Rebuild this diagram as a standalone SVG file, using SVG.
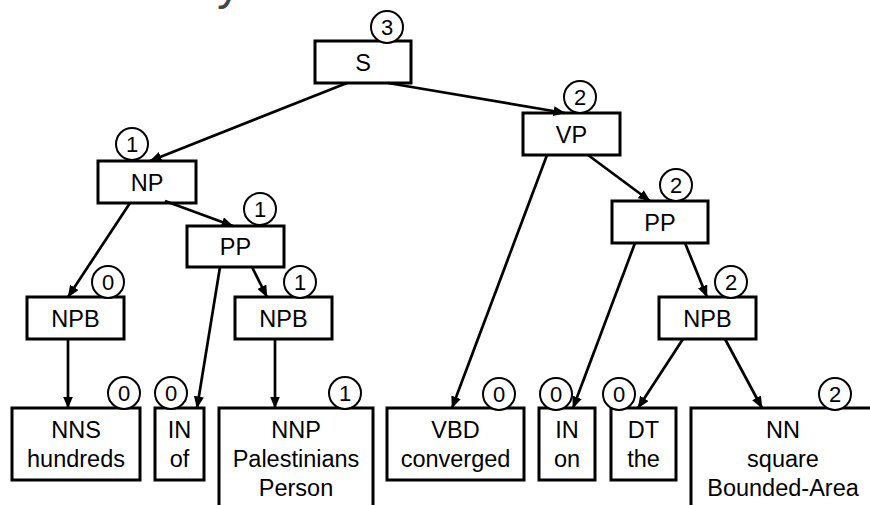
<svg xmlns="http://www.w3.org/2000/svg" width="870" height="505" viewBox="0 0 870 505">
  <style>
    .box { fill: #fff; stroke: #000; stroke-width: 3; }
    .cnt { fill: #fff; stroke: #000; stroke-width: 2; }
    .lbl { font-family: "Liberation Sans", Arial, sans-serif; font-size: 23.5px; fill: #000; text-anchor: middle; }
    .num { font-family: "Liberation Sans", Arial, sans-serif; font-size: 22px; fill: #000; text-anchor: middle; }
    .edge { stroke: #000; stroke-width: 2.7; fill: none; marker-end: url(#arrow); }
    .title { font-family: "Liberation Sans", Arial, sans-serif; font-size: 48px; fill: #444; }
  </style>
  <defs>
    <marker id="arrow" markerUnits="userSpaceOnUse" markerWidth="12" markerHeight="10" refX="11.5" refY="5" orient="auto">
      <path d="M0,0 L12,5 L0,10 Z" fill="#000"/>
    </marker>
  </defs>

  <rect width="870" height="505" fill="#fff"/>
  <text class="title" x="217" y="-1">y</text>

  <!-- tree nodes -->
  <g id="node-S">
    <rect class="box" x="315" y="41" width="96" height="42"/>
    <text class="lbl" x="363" y="71">S</text>
    <circle class="cnt" cx="387" cy="27" r="16"/>
    <text class="num" x="387" y="35">3</text>
  </g>
  <g id="node-NP">
    <rect class="box" x="98" y="161" width="98" height="42"/>
    <text class="lbl" x="147" y="191">NP</text>
    <circle class="cnt" cx="132" cy="144" r="16"/>
    <text class="num" x="132" y="152">1</text>
  </g>
  <g id="node-PP1">
    <rect class="box" x="187" y="226" width="97" height="41"/>
    <text class="lbl" x="235.5" y="255">PP</text>
    <circle class="cnt" cx="260" cy="209" r="16"/>
    <text class="num" x="260" y="217">1</text>
  </g>
  <g id="node-NPB1">
    <rect class="box" x="27" y="297" width="97" height="42"/>
    <text class="lbl" x="75.5" y="327">NPB</text>
    <circle class="cnt" cx="108" cy="282" r="16"/>
    <text class="num" x="108" y="290">0</text>
  </g>
  <g id="node-NPB2">
    <rect class="box" x="235" y="297" width="97" height="42"/>
    <text class="lbl" x="283.5" y="327">NPB</text>
    <circle class="cnt" cx="300" cy="282" r="16"/>
    <text class="num" x="300" y="290">1</text>
  </g>
  <g id="node-VP">
    <rect class="box" x="523" y="113" width="97" height="42"/>
    <text class="lbl" x="571.5" y="143">VP</text>
    <circle class="cnt" cx="580" cy="97" r="16"/>
    <text class="num" x="580" y="105">2</text>
  </g>
  <g id="node-PP2">
    <rect class="box" x="612" y="201" width="96" height="42"/>
    <text class="lbl" x="660" y="231">PP</text>
    <circle class="cnt" cx="676" cy="185" r="16"/>
    <text class="num" x="676" y="193">2</text>
  </g>
  <g id="node-NPB3">
    <rect class="box" x="659" y="297" width="97" height="42"/>
    <text class="lbl" x="707.5" y="327">NPB</text>
    <circle class="cnt" cx="731" cy="282" r="16"/>
    <text class="num" x="731" y="290">2</text>
  </g>

  <!-- leaves -->
  <g id="leaf-NNS">
    <rect class="box" x="12" y="408" width="128" height="72"/>
    <text class="lbl" x="76" y="438">NNS</text>
    <text class="lbl" x="76" y="467">hundreds</text>
    <circle class="cnt" cx="124" cy="393" r="16"/>
    <text class="num" x="124" y="401">0</text>
  </g>
  <g id="leaf-IN-of">
    <rect class="box" x="155" y="408" width="49" height="72"/>
    <text class="lbl" x="179.5" y="438">IN</text>
    <text class="lbl" x="179.5" y="467">of</text>
    <circle class="cnt" cx="171" cy="393" r="16"/>
    <text class="num" x="171" y="401">0</text>
  </g>
  <g id="leaf-NNP">
    <rect class="box" x="219" y="408" width="154" height="110"/>
    <text class="lbl" x="296" y="438">NNP</text>
    <text class="lbl" x="296" y="467">Palestinians</text>
    <text class="lbl" x="296" y="496">Person</text>
    <circle class="cnt" cx="345" cy="393" r="16"/>
    <text class="num" x="345" y="401">1</text>
  </g>
  <g id="leaf-VBD">
    <rect class="box" x="387" y="408" width="137" height="72"/>
    <text class="lbl" x="455.5" y="438">VBD</text>
    <text class="lbl" x="455.5" y="467">converged</text>
    <circle class="cnt" cx="499" cy="394" r="16"/>
    <text class="num" x="499" y="402">0</text>
  </g>
  <g id="leaf-IN-on">
    <rect class="box" x="539" y="408" width="56" height="72"/>
    <text class="lbl" x="567" y="438">IN</text>
    <text class="lbl" x="567" y="467">on</text>
    <circle class="cnt" cx="556" cy="394" r="16"/>
    <text class="num" x="556" y="402">0</text>
  </g>
  <g id="leaf-DT">
    <rect class="box" x="611" y="408" width="65" height="72"/>
    <text class="lbl" x="643.5" y="438">DT</text>
    <text class="lbl" x="643.5" y="467">the</text>
    <circle class="cnt" cx="619" cy="394" r="16"/>
    <text class="num" x="619" y="402">0</text>
  </g>
  <g id="leaf-NN">
    <rect class="box" x="691" y="408" width="185" height="110"/>
    <text class="lbl" x="783" y="438">NN</text>
    <text class="lbl" x="783" y="467">square</text>
    <text class="lbl" x="783" y="496">Bounded-Area</text>
    <circle class="cnt" cx="835" cy="394" r="16"/>
    <text class="num" x="835" y="402">2</text>
  </g>

  <!-- parent-to-child edges -->
  <g id="edges">
    <line class="edge" x1="347" y1="83" x2="150" y2="161"/>
    <line class="edge" x1="388" y1="83" x2="565" y2="113"/>
    <line class="edge" x1="130" y1="203" x2="68" y2="297"/>
    <line class="edge" x1="165" y1="201" x2="233" y2="226"/>
    <line class="edge" x1="220" y1="267" x2="197" y2="408"/>
    <line class="edge" x1="252" y1="267" x2="267" y2="297"/>
    <line class="edge" x1="68" y1="339" x2="68" y2="408"/>
    <line class="edge" x1="275" y1="339" x2="275" y2="408"/>
    <line class="edge" x1="547" y1="155" x2="452" y2="408"/>
    <line class="edge" x1="588" y1="155" x2="650" y2="201"/>
    <line class="edge" x1="635" y1="243" x2="573" y2="408"/>
    <line class="edge" x1="685" y1="243" x2="707" y2="297"/>
    <line class="edge" x1="683" y1="339" x2="638" y2="408"/>
    <line class="edge" x1="725" y1="339" x2="762" y2="408"/>
  </g>
</svg>
